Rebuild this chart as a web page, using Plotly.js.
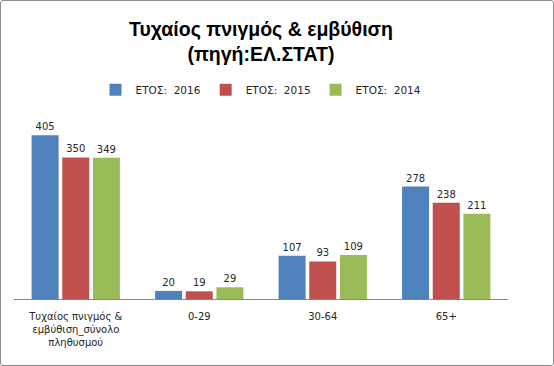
<!DOCTYPE html>
<html>
<head>
<meta charset="utf-8">
<script src="https://cdn.plot.ly/plotly-3.0.1.min.js"></script>
<style>
html,body{margin:0;padding:0;background:#fff;}
#wrap{position:relative;width:554px;height:366px;}
#chart{position:absolute;left:0;top:0;width:554px;height:366px;}
#frame{position:absolute;left:0;top:0;width:554px;height:366px;box-sizing:border-box;border:1px solid #8c8c8c;border-radius:3px;pointer-events:none;}
</style>
</head>
<body>
<div id="wrap"><div id="chart"></div><div id="frame"></div></div>
<script>
const categories = ["Τυχαίος πνιγμός &<br>εμβύθιση_σύνολο<br>πληθυσμού", "0-29", "30-64", "65+"];
const seriesNames = ["ΕΤΟΣ:  2016", "ΕΤΟΣ:  2015", "ΕΤΟΣ:  2014"];
const values2016 = [405, 20, 107, 278];
const values2015 = [350, 19, 93, 238];
const values2014 = [349, 29, 109, 211];
const colors = ["#4F81BD", "#C0504D", "#9BBB59"];

const allValues = [values2016, values2015, values2014];
const labelFont = {family: "DejaVu Sans, Verdana, sans-serif", size: 10, color: "#262626"};

const traces = allValues.map((vals, i) => ({
  type: "bar",
  name: seriesNames[i],
  x: categories,
  y: vals,
  marker: {color: colors[i]},
  text: vals.map(String),
  textposition: "outside",
  textfont: labelFont,
  cliponaxis: false,
  hoverinfo: "x+y"
}));

const layout = {
  width: 554,
  height: 366,
  margin: {l: 14, r: 46, t: 117, b: 67},
  paper_bgcolor: "#ffffff",
  plot_bgcolor: "#ffffff",
  barmode: "group",
  bargap: 0.255,
  bargroupgap: 0.12,
  title: {
    text: "<b>Τυχαίος πνιγμός & εμβύθιση<br>(πηγή:ΕΛ.ΣΤΑΤ)</b>",
    font: {family: "'Liberation Sans', Arial, sans-serif", size: 19.5, color: "#000"},
    x: 0.471,
    xanchor: "center",
    y: 0.902,
    yanchor: "top"
  },
  showlegend: true,
  legend: {
    orientation: "h",
    x: 0.5,
    xanchor: "center",
    y: 1.15,
    yanchor: "middle",
    font: {family: "DejaVu Sans, Verdana, sans-serif", size: 10.5, color: "#262626"},
    itemwidth: 30,
    traceorder: "normal"
  },
  xaxis: {
    type: "category",
    showline: true,
    linecolor: "#868686",
    linewidth: 1,
    ticks: "",
    ticklabelstandoff: 8,
    showgrid: false,
    tickfont: labelFont,
    fixedrange: true
  },
  yaxis: {
    range: [0, 450],
    visible: false,
    showgrid: false,
    zeroline: false,
    fixedrange: true
  }
};

Plotly.newPlot("chart", traces, layout, {displayModeBar: false, staticPlot: true});
</script>
</body>
</html>
